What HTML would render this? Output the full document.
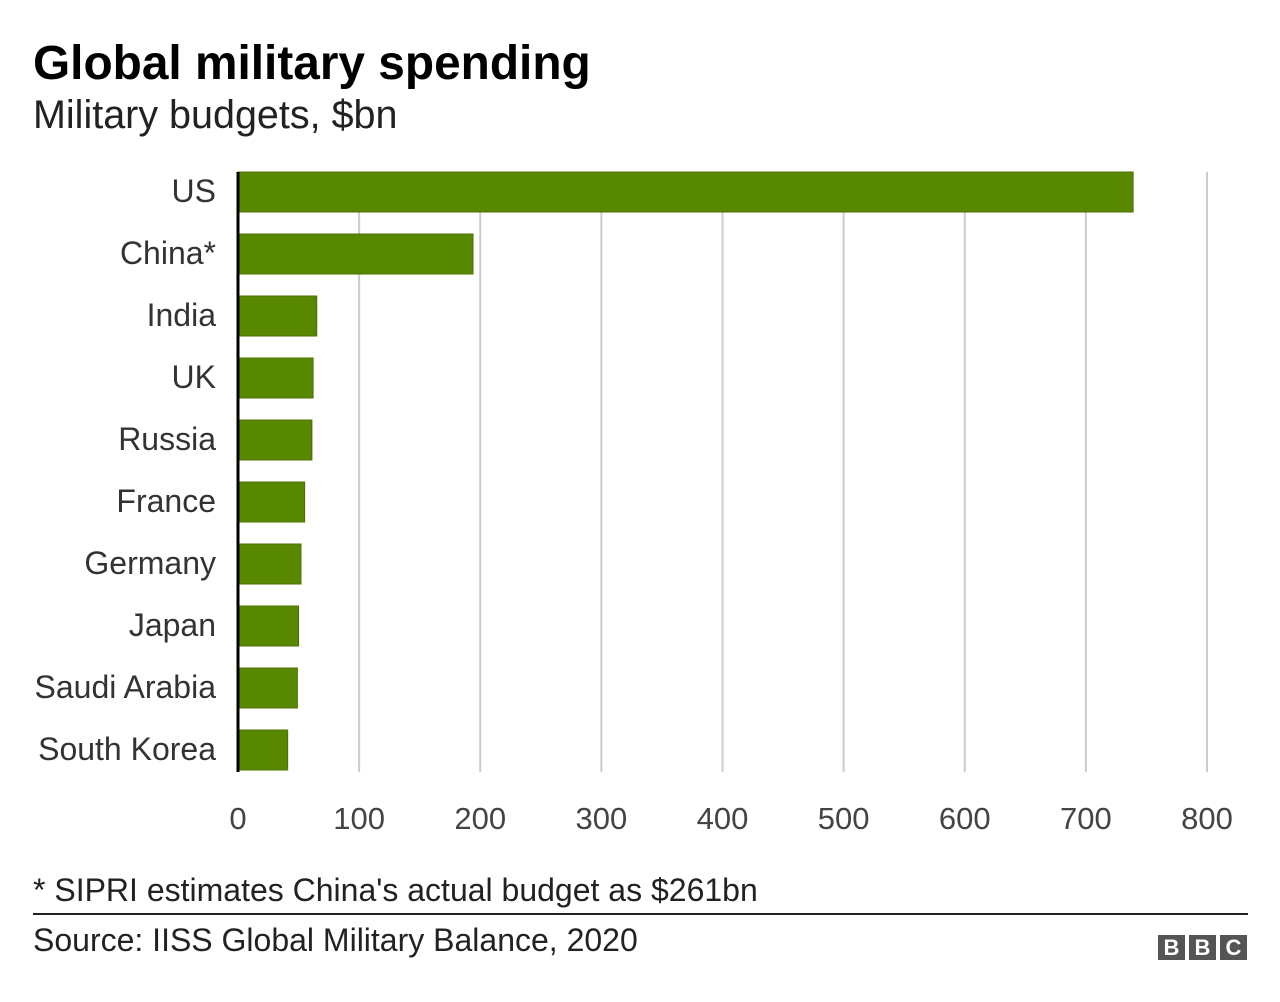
<!DOCTYPE html>
<html><head><meta charset="utf-8"><style>
body{margin:0;background:#fff;font-family:"Liberation Sans",Arial,sans-serif;}
#wrap{position:relative;width:1280px;height:1002px;overflow:hidden}
.t{position:absolute;white-space:nowrap;color:#222}
</style></head><body><div id="wrap">
<div class="t" style="left:33px;top:36px;font-size:47.8px;font-weight:bold;color:#000">Global military spending</div>
<div class="t" style="left:33px;top:93px;font-size:39.5px;color:#222">Military budgets, $bn</div>
<svg id="chart" width="1280" height="860" style="position:absolute;left:0;top:0"></svg>
<div class="t" style="left:33px;top:872px;font-size:32px">* SIPRI estimates China's actual budget as $261bn</div>
<div style="position:absolute;left:33px;top:913px;width:1215px;height:2px;background:#222"></div>
<div class="t" style="left:33px;top:922px;font-size:32px">Source: IISS Global Military Balance, 2020</div>
<div style="position:absolute;left:1158px;top:935px;display:flex;gap:4px">
<span style="width:27px;height:25px;background:#555;color:#fff;font-weight:bold;font-size:22px;line-height:25px;text-align:center">B</span>
<span style="width:27px;height:25px;background:#555;color:#fff;font-weight:bold;font-size:22px;line-height:25px;text-align:center">B</span>
<span style="width:27px;height:25px;background:#555;color:#fff;font-weight:bold;font-size:22px;line-height:25px;text-align:center">C</span>
</div>
</div>
<script>
const categories=["US","China*","India","UK","Russia","France","Germany","Japan","Saudi Arabia","South Korea"];
const values=[739,194,65,62,61,55,52,50,49,41];
const ticks=[0,100,200,300,400,500,600,700,800];
const svg=document.getElementById('chart');const NS='http://www.w3.org/2000/svg';
const x0=238,x1=1207,vmax=800,yTop=172,step=62,bh=40;
const xs=v=>x0+(v/vmax)*(x1-x0);
function mk(t,a){const e=document.createElementNS(NS,t);for(const k in a)e.setAttribute(k,a[k]);svg.appendChild(e);return e;}
ticks.forEach(t=>{
 if(t>0){const g=mk('line',{x1:xs(t),x2:xs(t),y1:yTop,y2:772,stroke:'#ccc','stroke-width':2});
 
 }
 const l=mk('text',{x:xs(t),y:829,'text-anchor':'middle','font-size':31,fill:'#444','font-family':'Liberation Sans, Arial, sans-serif'});
 l.textContent=t;
 
 
});
categories.forEach((c,i)=>{
 const y=yTop+i*step;
 const r=mk('rect',{x:x0,y:y,width:xs(values[i])-x0,height:bh,fill:'#588700',stroke:'#4a7000','stroke-width':1});
 
 
 const l=mk('text',{x:216,y:y+bh/2+10,'text-anchor':'end','font-size':32,fill:'#333','font-family':'Liberation Sans, Arial, sans-serif'});
 l.textContent=c;
 
 
});
const ax=mk('line',{x1:x0,x2:x0,y1:yTop,y2:772,stroke:'#000','stroke-width':3});


</script></body></html>
